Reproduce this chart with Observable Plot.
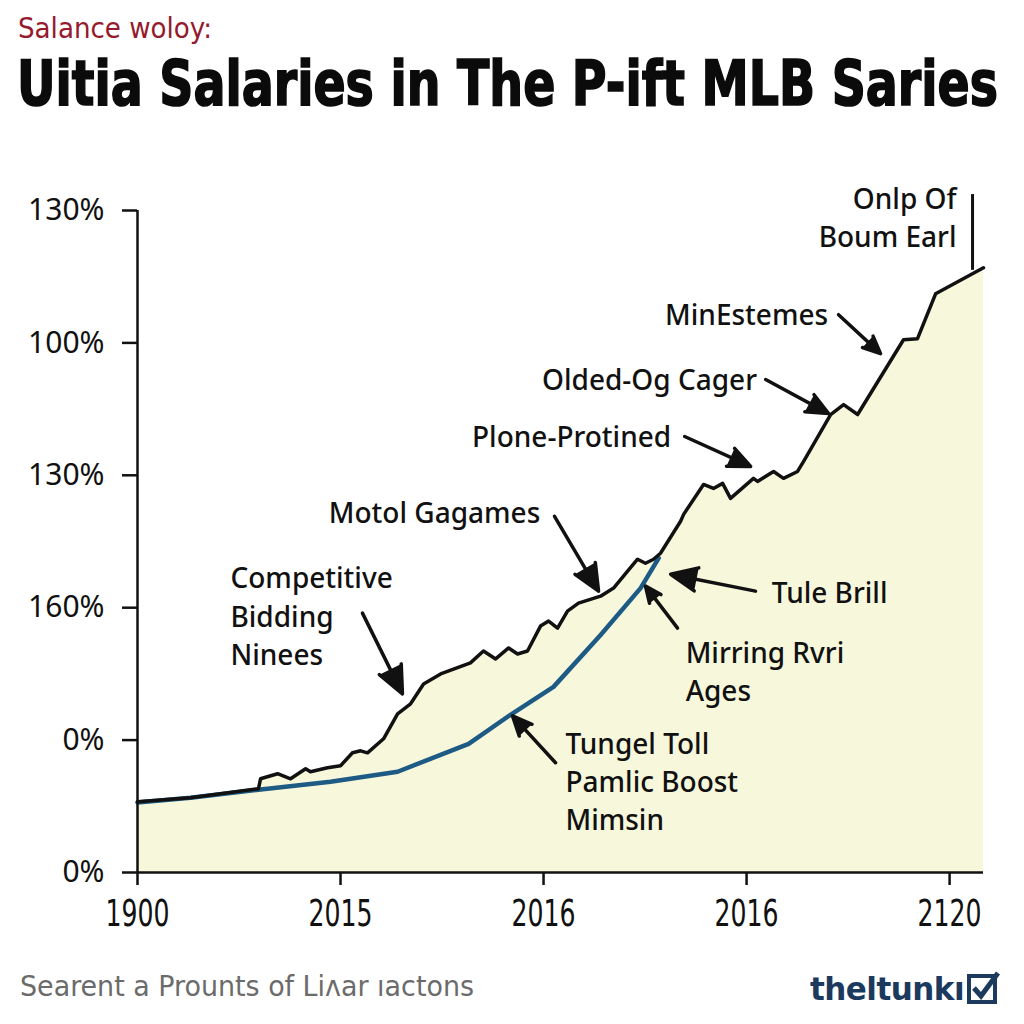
<!DOCTYPE html>
<html><head><meta charset="utf-8">
<script src="https://cdn.jsdelivr.net/npm/d3@7"></script>
<script src="https://cdn.jsdelivr.net/npm/@observablehq/plot@0.6"></script>
<style>
html,body{margin:0;padding:0;background:#fff;}
#wrap{position:relative;width:1024px;height:1024px;overflow:hidden;background:#fff;}
.fit{position:absolute;white-space:nowrap;transform-origin:0 0;line-height:1;}
#kicker{left:18px;top:12px;font:28px "Liberation Sans Narrow","DejaVu Sans Condensed",sans-serif;color:#96192d;}
#title{left:17px;top:47px;font:bold 62px "Liberation Sans Narrow","DejaVu Sans Condensed",sans-serif;color:#0b0b0b;-webkit-text-stroke:1.6px #0b0b0b;}
#chart{position:absolute;left:0;top:150px;}
#source{left:20px;top:970px;font:28px "Liberation Sans Narrow","DejaVu Sans Condensed",sans-serif;color:#6b6b6b;}
#logo{left:810px;top:970px;font:bold 32px "Liberation Sans Narrow","DejaVu Sans Condensed",sans-serif;color:#1c3a5e;letter-spacing:-0.5px;}
#check{position:absolute;left:967px;top:970px;}
#chart text{font-family:"Noto Sans","Open Sans",sans-serif;}
#chart g[aria-label="x-axis tick label"] text{font-family:"Liberation Sans Narrow","DejaVu Sans Condensed",sans-serif;}
</style>
</head><body>
<div id="wrap">
  <div id="kicker" class="fit" data-w="194">Salance woloy:</div>
  <div id="title" class="fit" data-w="981">Uitia Salaries in The P-ift MLB Saries</div>
  <div id="chart"></div>
  <div id="source" class="fit" data-w="454">Searent a Prounts of Liʌar ıactons</div>
  <div id="logo" class="fit" data-w="154">theltunkı</div>
  <svg id="check" width="34" height="34" viewBox="0 0 34 34">
    <rect x="2" y="6" width="26" height="26" fill="none" stroke="#1c3a5e" stroke-width="4"/>
    <path d="M7 18 L14 26 L31 3" fill="none" stroke="#1c3a5e" stroke-width="5"/>
  </svg>
</div>
<script>
// ---- axis ticks ----
const xTickValues = [0, 1, 2, 3, 4];
const xTickLabels = ["1900", "2015", "2016", "2016", "2120"];
const yTickValues = [0, 1, 2, 3, 4, 5];
const yTickLabels = ["0%", "0%", "160%", "130%", "100%", "130%"];

// ---- salary series (black line with fill) ----
const salaryX = [0, 0.261, 0.596, 0.606, 0.690, 0.754, 0.828, 0.852, 0.936, 1.000, 1.059, 1.099, 1.133, 1.212, 1.281, 1.345, 1.409, 1.493, 1.640, 1.704, 1.764, 1.828, 1.872, 1.921, 1.985, 2.025, 2.069, 2.118, 2.172, 2.281, 2.345, 2.414, 2.463, 2.502, 2.542, 2.576, 2.675, 2.690, 2.788, 2.837, 2.882, 2.921, 3.034, 3.054, 3.133, 3.182, 3.251, 3.281, 3.414, 3.478, 3.547, 3.773, 3.842, 3.931, 4.167];
const salaryY = [0.535, 0.565, 0.633, 0.708, 0.746, 0.708, 0.784, 0.761, 0.791, 0.806, 0.904, 0.919, 0.904, 1.010, 1.198, 1.274, 1.424, 1.500, 1.583, 1.673, 1.613, 1.696, 1.650, 1.673, 1.861, 1.899, 1.846, 1.974, 2.035, 2.087, 2.148, 2.276, 2.366, 2.336, 2.366, 2.411, 2.653, 2.705, 2.931, 2.901, 2.939, 2.826, 2.977, 2.954, 3.029, 2.977, 3.029, 3.105, 3.459, 3.534, 3.459, 4.024, 4.032, 4.371, 4.567];

// ---- trend series (blue line) ----
const trendX = [0, 0.261, 0.596, 0.951, 1.281, 1.631, 1.837, 2.049, 2.281, 2.478, 2.567];
const trendY = [0.528, 0.565, 0.625, 0.686, 0.761, 0.972, 1.191, 1.402, 1.794, 2.148, 2.374];

// ---- annotations ----
const noteText = ["Onlp Of\nBoum Earl", "MinEstemes", "Olded-Og Cager", "Plone-Protined", "Motol Gagames", "Competitive\nBidding\nNinees", "Tule Brill", "Mirring Rvri\nAges", "Tungel Toll\nPamlic Boost\nMimsin"];
const noteX = [4.034, 3.000, 2.522, 2.138, 1.463, 0.458, 3.409, 2.700, 2.108];
const noteY = [4.959, 4.228, 3.738, 3.308, 2.735, 1.950, 2.125, 1.530, 0.701];
const noteAnchor = ["end", "middle", "middle", "middle", "middle", "start", "middle", "start", "start"];

const arrowX1 = [3.453, 3.094, 2.695, 2.054, 1.108, 3.044, 2.660, 2.059];
const arrowY1 = [4.213, 3.723, 3.293, 2.690, 1.959, 2.125, 1.846, 0.829];
const arrowX2 = [3.660, 3.404, 3.020, 2.271, 1.305, 2.626, 2.502, 1.847];
const arrowY2 = [3.919, 3.466, 3.067, 2.125, 1.349, 2.253, 2.163, 1.183];

const leaderX = [4.113];
const leaderY1 = [5.124];
const leaderY2 = [4.552];

// ---- tables ----
const salary = salaryX.map((x, i) => ({x, y: salaryY[i]}));
const trend = trendX.map((x, i) => ({x, y: trendY[i]}));
const notes = noteText.map((t, i) => ({t, x: noteX[i], y: noteY[i], a: noteAnchor[i]}));
const arrows = arrowX1.map((x1, i) => ({x1, y1: arrowY1[i], x2: arrowX2[i], y2: arrowY2[i]}));
const leader = leaderX.map((x, i) => ({x, y1: leaderY1[i], y2: leaderY2[i]}));

const ink = "#111";
const textOpts = a => ({x: "x", y: "y", text: "t", filter: d => d.a === a, textAnchor: a, lineAnchor: "middle", fontSize: 28, lineHeight: 1.36, fill: ink, fontWeight: 500});

const chart = Plot.plot({
  width: 1024, height: 800,
  marginLeft: 137, marginRight: 41, marginTop: 60, marginBottom: 78,
  x: {domain: [0, 4.167]},
  y: {domain: [0, 5]},
  style: {background: "transparent", overflow: "visible"},
  marks: [
    Plot.areaY(salary, {x: "x", y: "y", fill: "#f7f7dc"}),
    Plot.line(trend, {x: "x", y: "y", stroke: "#1d5b85", strokeWidth: 4.5}),
    Plot.line(salary, {x: "x", y: "y", stroke: ink, strokeWidth: 3.5}),
    Plot.ruleX([0], {stroke: ink, strokeWidth: 2.5}),
    Plot.ruleY([0], {stroke: ink, strokeWidth: 2.5}),
    Plot.axisY({ticks: yTickValues, tickFormat: d => yTickLabels[d], tickSize: 15, tickPadding: 18, fontSize: 30, stroke: ink, strokeWidth: 2.5, fill: ink, label: null}),
    Plot.axisX({ticks: xTickValues, tickFormat: d => xTickLabels[d], tickSize: 13, tickPadding: 14, fontSize: 37, stroke: ink, strokeWidth: 2.5, fill: ink, label: null}),
    Plot.link(leader, {x1: "x", x2: "x", y1: "y1", y2: "y2", stroke: ink, strokeWidth: 3}),
    Plot.arrow(arrows, {x1: "x1", y1: "y1", x2: "x2", y2: "y2", stroke: ink, fill: ink, strokeWidth: 3.5, strokeLinejoin: "miter", headLength: 17, headAngle: 48}),
    Plot.text(notes, textOpts("middle")),
    Plot.text(notes, textOpts("start")),
    Plot.text(notes, textOpts("end"))
  ]
});
document.getElementById("chart").append(chart);

// narrow x tick labels like the condensed face of the original
chart.querySelectorAll('g[aria-label="x-axis tick label"] text').forEach(t => {
  t.setAttribute("textLength", 64);
  t.setAttribute("lengthAdjust", "spacingAndGlyphs");
});

// fit header/footer texts to their widths
document.querySelectorAll(".fit").forEach(el => {
  const w = el.getBoundingClientRect().width;
  const target = +el.dataset.w;
  if (w > 0) el.style.transform = `scaleX(${target / w})`;
});
</script>
</body></html>
